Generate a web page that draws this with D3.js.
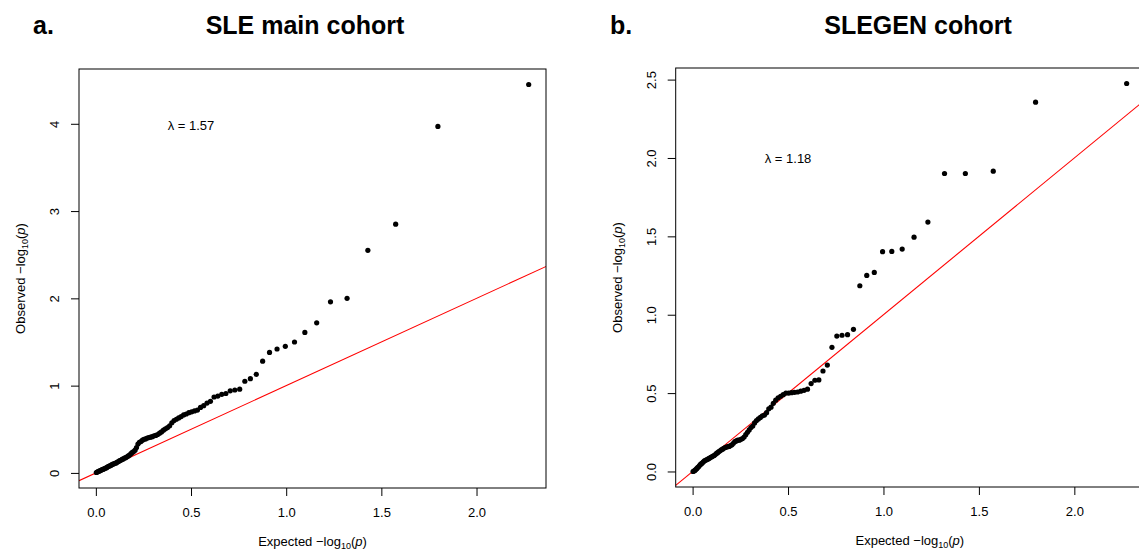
<!DOCTYPE html>
<html><head><meta charset="utf-8">
<script src="https://cdn.jsdelivr.net/npm/d3@7"></script>
<style>body{margin:0;background:#fff;} svg text{font-family:"Liberation Sans",Arial,Helvetica,sans-serif;}</style>
</head><body><svg id="c" width="1139" height="551"></svg>
<script>
const panelLabels = ["a.", "b."];
const panelTitles = ["SLE main cohort", "SLEGEN cohort"];
const lambdaLabels = ["λ = 1.57", "λ = 1.18"];
const xTicks = [0, 0.5, 1, 1.5, 2];
const xTickLabels = ["0.0", "0.5", "1.0", "1.5", "2.0"];
const yTicksA = [0, 1, 2, 3, 4];
const yTickLabelsA = ["0", "1", "2", "3", "4"];
const yTicksB = [0, 0.5, 1, 1.5, 2, 2.5];
const yTickLabelsB = ["0.0", "0.5", "1.0", "1.5", "2.0", "2.5"];
// observed -log10(p), sorted from largest to smallest (94 SNPs each)
const observedA = [4.45, 3.97, 2.85, 2.55, 2.00, 1.96, 1.72, 1.61, 1.50, 1.45,
  1.42, 1.38, 1.28, 1.13, 1.08, 1.05, 0.96, 0.95, 0.94, 0.91,
  0.90, 0.88, 0.87, 0.82, 0.80, 0.77, 0.75, 0.72, 0.71, 0.70,
  0.69, 0.675, 0.665, 0.645, 0.63, 0.615, 0.60, 0.575, 0.54, 0.52,
  0.505, 0.49, 0.47, 0.455, 0.44, 0.43, 0.425, 0.415, 0.41, 0.405,
  0.40, 0.39, 0.385, 0.375, 0.36, 0.35, 0.33, 0.29, 0.26, 0.245,
  0.235, 0.22, 0.205, 0.195, 0.185, 0.175, 0.17, 0.16, 0.155, 0.145,
  0.14, 0.13, 0.125, 0.115, 0.11, 0.105, 0.10, 0.095, 0.085, 0.08,
  0.075, 0.07, 0.06, 0.055, 0.05, 0.045, 0.04, 0.035, 0.03, 0.025,
  0.02, 0.015, 0.01, 0.005];
const observedB = [2.475, 2.356, 1.916, 1.901, 1.901, 1.591, 1.495, 1.419, 1.404, 1.402,
  1.270, 1.251, 1.185, 0.907, 0.873, 0.869, 0.864, 0.792, 0.679, 0.641,
  0.584, 0.582, 0.561, 0.525, 0.518, 0.512, 0.507, 0.505, 0.503, 0.50,
  0.50, 0.49, 0.48, 0.47, 0.455, 0.435, 0.41, 0.40, 0.375, 0.36,
  0.355, 0.345, 0.335, 0.325, 0.31, 0.29, 0.28, 0.265, 0.25, 0.235,
  0.22, 0.21, 0.205, 0.20, 0.20, 0.195, 0.19, 0.18, 0.17, 0.165,
  0.16, 0.158, 0.156, 0.153, 0.148, 0.142, 0.138, 0.132, 0.127, 0.12,
  0.115, 0.108, 0.102, 0.098, 0.094, 0.09, 0.086, 0.082, 0.078, 0.075,
  0.071, 0.068, 0.062, 0.055, 0.05, 0.045, 0.038, 0.03, 0.025, 0.018,
  0.012, 0.007, 0.003, 0.0];

const panels = [
  {obs: observedA, yTicks: yTicksA, yLabels: yTickLabelsA, left: 79, top: 69, right: 546, bottom: 488,
   labelX: 33, titleX: 305, lamX: 0.5, lamY: 3.98},
  {obs: observedB, yTicks: yTicksB, yLabels: yTickLabelsB, left: 675.7, top: 68, right: 1144, bottom: 487,
   labelX: 610, titleX: 918, lamX: 0.5, lamY: 1.995}
];

const svg = d3.select("#c");
panels.forEach((p, k) => {
  const n = p.obs.length;
  // QQ transformation: expected quantiles of uniform p-values (ppoints)
  const expected = p.obs.map((d, i) => -Math.log10((i + 1 - 0.5) / n));
  const xe = d3.extent(expected), ye = d3.extent(p.obs);
  const px = 0.04 * (xe[1] - xe[0]), py = 0.04 * (ye[1] - ye[0]);
  const x = d3.scaleLinear().domain([xe[0] - px, xe[1] + px]).range([p.left, p.right]);
  const y = d3.scaleLinear().domain([ye[0] - py, ye[1] + py]).range([p.bottom, p.top]);
  const g = svg.append("g");

  // titles
  g.append("text").attr("x", p.labelX).attr("y", 34).attr("font-size", 25).attr("font-weight", "bold").text(panelLabels[k]);
  g.append("text").attr("x", p.titleX).attr("y", 34).attr("font-size", 25).attr("font-weight", "bold")
    .attr("text-anchor", "middle").text(panelTitles[k]);

  // clip
  const cid = "clip" + k;
  g.append("clipPath").attr("id", cid).append("rect")
    .attr("x", p.left).attr("y", p.top).attr("width", p.right - p.left).attr("height", p.bottom - p.top);

  // diagonal y = x
  const d0 = x.domain()[0], d1 = x.domain()[1];
  g.append("line").attr("clip-path", `url(#${cid})`)
    .attr("x1", x(d0)).attr("y1", y(d0)).attr("x2", x(d1 + 1)).attr("y2", y(d1 + 1))
    .attr("stroke", "#ff0000").attr("stroke-width", 1.1);

  // points
  g.append("g").selectAll("circle").data(p.obs).join("circle")
    .attr("cx", (d, i) => x(expected[i])).attr("cy", d => y(d)).attr("r", 2.6).attr("fill", "#000");

  // box
  g.append("rect").attr("x", p.left).attr("y", p.top).attr("width", p.right - p.left).attr("height", p.bottom - p.top)
    .attr("fill", "none").attr("stroke", "#000").attr("stroke-width", 1);

  // x axis
  const xa = g.append("g").attr("transform", `translate(0,${p.bottom})`)
    .call(d3.axisBottom(x).tickValues(xTicks).tickFormat((d, i) => xTickLabels[i]).tickSize(8).tickSizeOuter(0).tickPadding(12));
  xa.select(".domain").remove();
  xa.selectAll("line").attr("stroke", "#000");
  xa.selectAll("text").attr("font-size", 13).attr("font-family", null).attr("fill", "#000");

  // y axis
  const ya = g.append("g").attr("transform", `translate(${p.left},0)`)
    .call(d3.axisLeft(y).tickValues(p.yTicks).tickFormat((d, i) => p.yLabels[i]).tickSize(8).tickSizeOuter(0));
  ya.select(".domain").remove();
  ya.selectAll("line").attr("stroke", "#000");
  ya.selectAll("text").attr("font-size", 13).attr("font-family", null).attr("fill", "#000")
    .attr("x", 0).attr("dy", 0).attr("text-anchor", "middle").attr("transform", "translate(-20,0) rotate(-90)");

  // axis titles
  const xt = g.append("text").attr("x", (p.left + p.right) / 2).attr("y", p.bottom + 58)
    .attr("font-size", 13).attr("text-anchor", "middle");
  xt.append("tspan").text("Expected  \u2212log");
  xt.append("tspan").attr("font-size", 9).attr("dy", 3).text("10");
  xt.append("tspan").attr("dy", -3).text("(");
  xt.append("tspan").attr("font-style", "italic").text("p");
  xt.append("tspan").text(")");

  const cy = (p.top + p.bottom) / 2, cx = p.left - 54;
  const yt = g.append("text").attr("transform", `translate(${cx},${cy}) rotate(-90)`)
    .attr("font-size", 13).attr("text-anchor", "middle");
  yt.append("tspan").text("Observed  \u2212log");
  yt.append("tspan").attr("font-size", 9).attr("dy", 3).text("10");
  yt.append("tspan").attr("dy", -3).text("(");
  yt.append("tspan").attr("font-style", "italic").text("p");
  yt.append("tspan").text(")");

  // lambda
  g.append("text").attr("x", x(p.lamX)).attr("y", y(p.lamY)).attr("dy", "0.35em")
    .attr("font-size", 13).attr("text-anchor", "middle").text(lambdaLabels[k]);
});
</script></body></html>
